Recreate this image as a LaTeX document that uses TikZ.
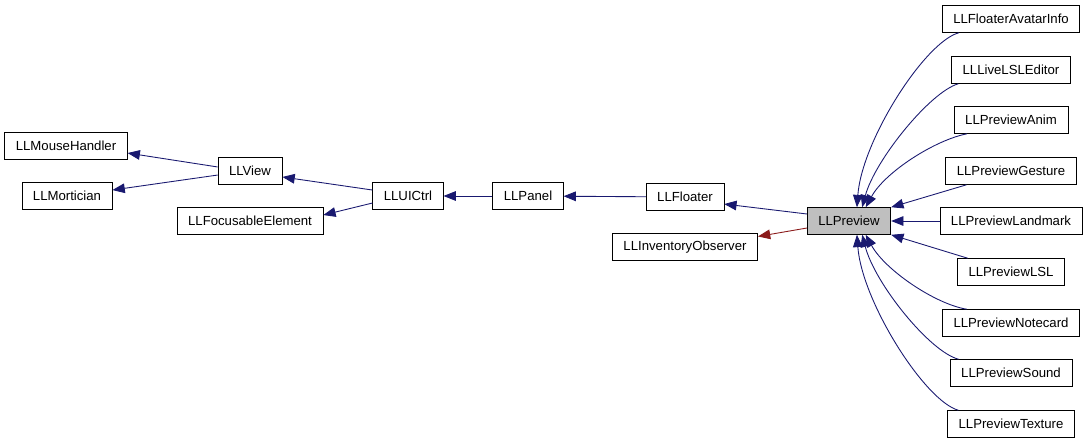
\documentclass[tikz,border=0pt]{standalone}
\usepackage{fontspec}
\setmainfont{Liberation Sans}
\usetikzlibrary{arrows.meta}
\definecolor{edgeblue}{HTML}{191970}
\definecolor{edgered}{HTML}{8B1A1A}

\tikzset{
  cls/.style={draw, fill=white, inner xsep=6.3pt, inner ysep=0pt, minimum height=15.3pt, font=\fontsize{7.5}{9}\selectfont},
  focus/.style={cls, fill=gray!50},
  inh/.style={draw=edgeblue, line width=0.5pt, -{Triangle[length=7pt, width=5.5pt]}},
  prot/.style={inh, draw=edgered}
}

\begin{document}
\begin{tikzpicture}[x=0.02cm, y=-0.02cm]
\useasboundingbox (0,0) rectangle (1088,443);

% base classes
\node[cls] (mouse) at (66,146) {LLMouseHandler};
\node[cls] (mortician) at (67,196) {LLMortician};
\node[cls] (view) at (250,171) {LLView};
\node[cls] (focusable) at (250,221) {LLFocusableElement};
\node[cls] (uictrl) at (408,196) {LLUICtrl};
\node[cls] (panel) at (528,196) {LLPanel};
\node[cls] (floater) at (685,197) {LLFloater};
\node[cls] (invobs) at (685,247) {LLInventoryObserver};
\node[focus] (preview) at (849,221) {LLPreview};

% derived classes
\node[cls] (avatar) at (1011,19) {LLFloaterAvatarInfo};
\node[cls] (livelsl) at (1011,70) {LLLiveLSLEditor};
\node[cls] (anim) at (1011,120) {LLPreviewAnim};
\node[cls] (gesture) at (1011,171) {LLPreviewGesture};
\node[cls] (landmark) at (1011,221) {LLPreviewLandmark};
\node[cls] (lsl) at (1011,272) {LLPreviewLSL};
\node[cls] (notecard) at (1011,323) {LLPreviewNotecard};
\node[cls] (sound) at (1011,373) {LLPreviewSound};
\node[cls] (texture) at (1011,424) {LLPreviewTexture};

% inheritance, left part
\draw[inh] ([yshift=2.3pt]view.west) -- ([yshift=-4pt]mouse.east);
\draw[inh] ([yshift=-2.3pt]view.west) -- ([yshift=3.4pt]mortician.east);
\draw[inh] ([yshift=3.4pt]uictrl.west) -- ([yshift=-3.4pt]view.east);
\draw[inh] ([yshift=-4pt]uictrl.west) -- ([yshift=3.4pt]focusable.east);
\draw[inh] (panel) -- (uictrl);
\draw[inh] (floater) -- (panel);
\draw[inh] ([yshift=4pt]preview.west) -- ([yshift=-4pt]floater.east);
\draw[prot] ([yshift=-4pt]preview.west) -- ([yshift=6pt]invobs.east);

% inheritance, right part
\draw[inh] ([xshift=9.6pt]avatar.south west) .. controls (925,42) and (862,140) .. ([xshift=4.5pt]preview.north);
\draw[inh] ([xshift=4pt]livelsl.south west) .. controls (930,92) and (875,160) .. ([xshift=7.5pt]preview.north);
\draw[inh] ([xshift=7.5pt]anim.south west) .. controls (935,140) and (885,172) .. ([xshift=9.5pt]preview.north);
\draw[inh] ([xshift=12pt]gesture.south west) -- (preview.north east);
\draw[inh] (landmark) -- (preview);
\draw[inh] ([xshift=6pt]lsl.north west) -- (preview.south east);
\draw[inh] ([xshift=14pt]notecard.north west) .. controls (935,304) and (885,270) .. ([xshift=9.5pt]preview.south);
\draw[inh] ([xshift=5pt]sound.north west) .. controls (930,352) and (875,284) .. ([xshift=7.5pt]preview.south);
\draw[inh] ([xshift=6.3pt]texture.north west) .. controls (925,401) and (862,302) .. ([xshift=4.5pt]preview.south);
\end{tikzpicture}
\end{document}
